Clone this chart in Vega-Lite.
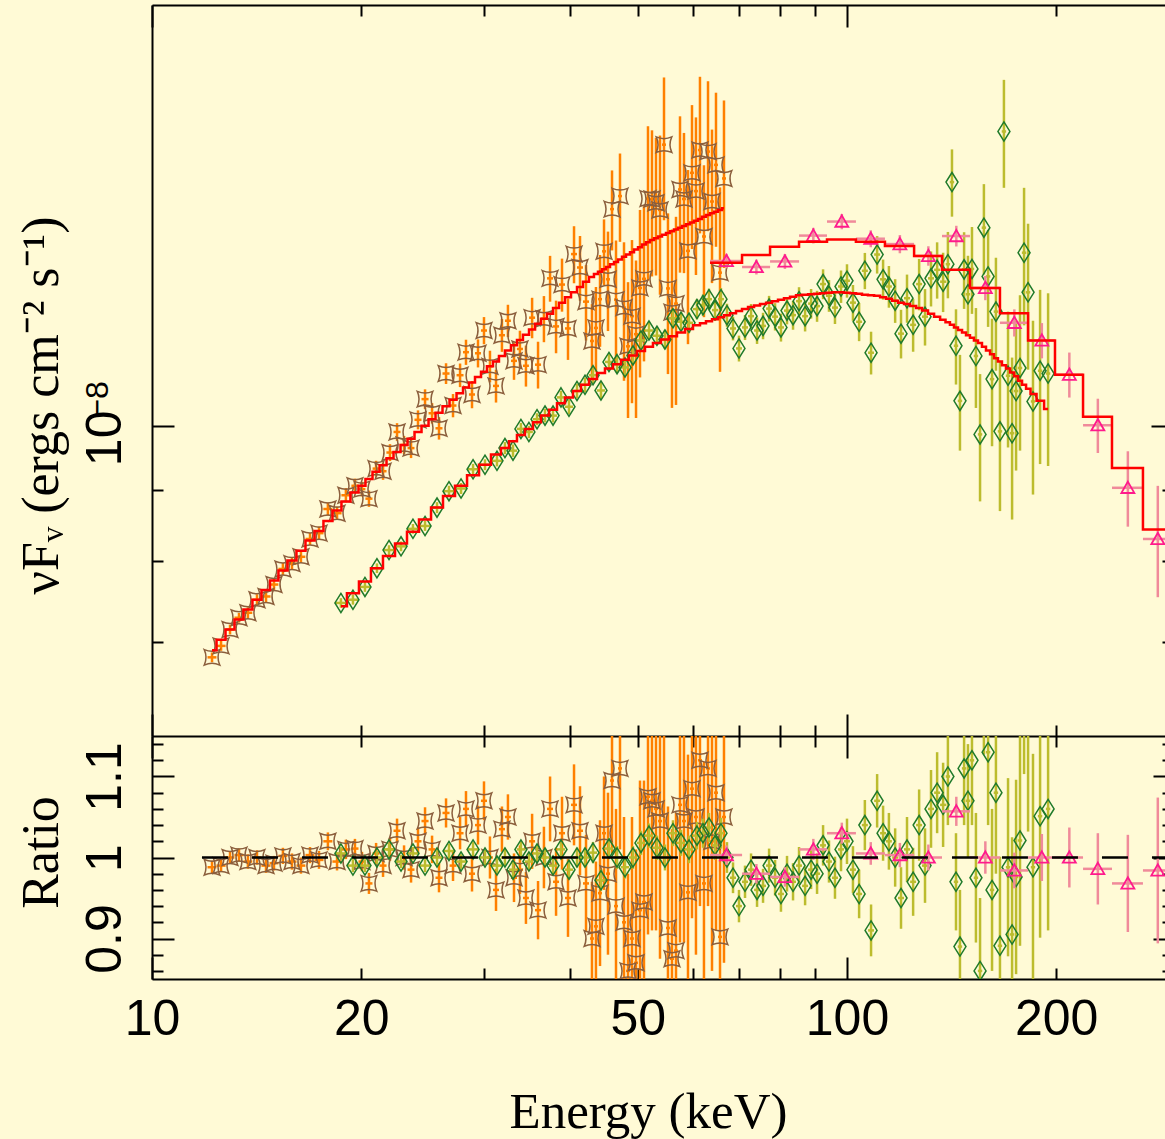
{
"$schema":"https://vega.github.io/schema/vega-lite/v6.json",
"autosize":{"type":"none"},
"padding":{"left":152,"top":5,"right":0,"bottom":160},
"width":1013,"height":974,
"background":"#fffad6",
"config":{"view":{"stroke":null},"axis":{"grid":false,"domainColor":"#000","tickColor":"#000","domainWidth":2,"tickWidth":2,"labelColor":"#000","titleColor":"#000","titleFontWeight":"normal"}},
"datasets":{
"brown":[
{"E":12.2,"xe":0.18,"m":6.91e-9,"r":0.988,"f":6.83e-9,"re":0.008,"fe":5.5e-11},
{"E":12.57,"xe":0.19,"m":7.03e-9,"r":0.99,"f":6.96e-9,"re":0.008,"fe":5.6e-11},
{"E":12.95,"xe":0.19,"m":7.15e-9,"r":1.0,"f":7.15e-9,"re":0.008,"fe":5.7e-11},
{"E":13.34,"xe":0.2,"m":7.27e-9,"r":1.003,"f":7.29e-9,"re":0.008,"fe":5.8e-11},
{"E":13.74,"xe":0.2,"m":7.39e-9,"r":0.995,"f":7.35e-9,"re":0.009,"fe":6.7e-11},
{"E":14.16,"xe":0.21,"m":7.51e-9,"r":1.0,"f":7.51e-9,"re":0.009,"fe":6.8e-11},
{"E":14.59,"xe":0.22,"m":7.63e-9,"r":0.99,"f":7.55e-9,"re":0.009,"fe":6.9e-11},
{"E":14.98,"xe":0.22,"m":7.75e-9,"r":0.993,"f":7.7e-9,"re":0.009,"fe":7.0e-11},
{"E":15.43,"xe":0.23,"m":7.88e-9,"r":1.002,"f":7.9e-9,"re":0.01,"fe":7.9e-11},
{"E":15.9,"xe":0.24,"m":8.01e-9,"r":0.995,"f":7.97e-9,"re":0.01,"fe":8.0e-11},
{"E":16.38,"xe":0.24,"m":8.14e-9,"r":0.99,"f":8.06e-9,"re":0.01,"fe":8.1e-11},
{"E":16.88,"xe":0.25,"m":8.28e-9,"r":1.003,"f":8.3e-9,"re":0.01,"fe":8.3e-11},
{"E":17.39,"xe":0.26,"m":8.41e-9,"r":0.997,"f":8.38e-9,"re":0.011,"fe":9.3e-11},
{"E":17.91,"xe":0.27,"m":8.55e-9,"r":1.02,"f":8.72e-9,"re":0.011,"fe":9.4e-11},
{"E":18.46,"xe":0.28,"m":8.7e-9,"r":0.995,"f":8.66e-9,"re":0.011,"fe":9.6e-11},
{"E":19.01,"xe":0.28,"m":8.83e-9,"r":1.01,"f":8.92e-9,"re":0.012,"fe":1.06e-10},
{"E":19.59,"xe":0.23,"m":8.96e-9,"r":1.011,"f":9.06e-9,"re":0.012,"fe":1.08e-10},
{"E":20.05,"xe":0.23,"m":9.06e-9,"r":0.995,"f":9.01e-9,"re":0.012,"fe":1.09e-10},
{"E":20.52,"xe":0.24,"m":9.16e-9,"r":0.968,"f":8.87e-9,"re":0.013,"fe":1.19e-10},
{"E":21.01,"xe":0.24,"m":9.27e-9,"r":1.005,"f":9.32e-9,"re":0.013,"fe":1.21e-10},
{"E":21.5,"xe":0.25,"m":9.37e-9,"r":0.99,"f":9.28e-9,"re":0.014,"fe":1.31e-10},
{"E":22.0,"xe":0.26,"m":9.48e-9,"r":1.01,"f":9.57e-9,"re":0.014,"fe":1.33e-10},
{"E":22.52,"xe":0.26,"m":9.58e-9,"r":1.033,"f":9.9e-9,"re":0.015,"fe":1.44e-10},
{"E":23.05,"xe":0.27,"m":9.69e-9,"r":1.0,"f":9.69e-9,"re":0.015,"fe":1.45e-10},
{"E":23.59,"xe":0.27,"m":9.79e-9,"r":0.985,"f":9.64e-9,"re":0.016,"fe":1.57e-10},
{"E":24.14,"xe":0.28,"m":9.9e-9,"r":1.02,"f":1.01e-8,"re":0.016,"fe":1.58e-10},
{"E":24.71,"xe":0.29,"m":1.0e-8,"r":1.045,"f":1.045e-8,"re":0.017,"fe":1.7e-10},
{"E":25.29,"xe":0.29,"m":1.011e-8,"r":1.01,"f":1.021e-8,"re":0.017,"fe":1.72e-10},
{"E":25.88,"xe":0.3,"m":1.022e-8,"r":0.975,"f":9.96e-9,"re":0.018,"fe":1.84e-10},
{"E":26.49,"xe":0.31,"m":1.033e-8,"r":1.055,"f":1.09e-8,"re":0.018,"fe":1.86e-10},
{"E":27.11,"xe":0.31,"m":1.044e-8,"r":0.99,"f":1.034e-8,"re":0.019,"fe":1.98e-10},
{"E":27.75,"xe":0.32,"m":1.055e-8,"r":1.03,"f":1.087e-8,"re":0.02,"fe":2.11e-10},
{"E":28.3,"xe":0.28,"m":1.065e-8,"r":1.06,"f":1.129e-8,"re":0.022,"fe":2.34e-10},
{"E":28.87,"xe":0.29,"m":1.074e-8,"r":0.98,"f":1.053e-8,"re":0.022,"fe":2.36e-10},
{"E":29.45,"xe":0.29,"m":1.084e-8,"r":1.04,"f":1.127e-8,"re":0.024,"fe":2.6e-10},
{"E":30.04,"xe":0.3,"m":1.093e-8,"r":1.07,"f":1.17e-8,"re":0.024,"fe":2.62e-10},
{"E":30.64,"xe":0.3,"m":1.103e-8,"r":1.0,"f":1.103e-8,"re":0.026,"fe":2.87e-10},
{"E":31.26,"xe":0.31,"m":1.112e-8,"r":0.96,"f":1.068e-8,"re":0.026,"fe":2.89e-10},
{"E":31.88,"xe":0.32,"m":1.122e-8,"r":1.035,"f":1.161e-8,"re":0.028,"fe":3.14e-10},
{"E":32.52,"xe":0.32,"m":1.132e-8,"r":1.05,"f":1.189e-8,"re":0.028,"fe":3.17e-10},
{"E":33.18,"xe":0.33,"m":1.142e-8,"r":0.975,"f":1.113e-8,"re":0.03,"fe":3.43e-10},
{"E":33.84,"xe":0.34,"m":1.152e-8,"r":0.985,"f":1.135e-8,"re":0.03,"fe":3.46e-10},
{"E":34.52,"xe":0.34,"m":1.162e-8,"r":0.95,"f":1.104e-8,"re":0.032,"fe":3.72e-10},
{"E":35.23,"xe":0.35,"m":1.172e-8,"r":1.02,"f":1.195e-8,"re":0.034,"fe":3.98e-10},
{"E":35.93,"xe":0.36,"m":1.183e-8,"r":0.935,"f":1.106e-8,"re":0.036,"fe":4.26e-10},
{"E":36.64,"xe":0.36,"m":1.193e-8,"r":1.0,"f":1.193e-8,"re":0.038,"fe":4.53e-10},
{"E":37.39,"xe":0.37,"m":1.203e-8,"r":1.06,"f":1.275e-8,"re":0.04,"fe":4.81e-10},
{"E":38.14,"xe":0.38,"m":1.214e-8,"r":0.97,"f":1.178e-8,"re":0.042,"fe":5.1e-10},
{"E":38.9,"xe":0.39,"m":1.225e-8,"r":1.03,"f":1.262e-8,"re":0.045,"fe":5.51e-10},
{"E":39.68,"xe":0.39,"m":1.236e-8,"r":0.95,"f":1.174e-8,"re":0.048,"fe":5.93e-10},
{"E":40.48,"xe":0.4,"m":1.246e-8,"r":1.065,"f":1.327e-8,"re":0.05,"fe":6.23e-10},
{"E":41.29,"xe":0.41,"m":1.257e-8,"r":1.033,"f":1.298e-8,"re":0.055,"fe":6.91e-10},
{"E":42.12,"xe":0.42,"m":1.268e-8,"r":0.968,"f":1.227e-8,"re":0.06,"fe":7.61e-10},
{"E":42.96,"xe":0.28,"m":1.278e-8,"r":0.9,"f":1.15e-8,"re":0.07,"fe":7.2e-10},
{"E":43.53,"xe":0.29,"m":1.284e-8,"r":0.915,"f":1.175e-8,"re":0.08,"fe":8.2e-10},
{"E":44.12,"xe":0.29,"m":1.289e-8,"r":0.956,"f":1.232e-8,"re":0.09,"fe":9.3e-10},
{"E":44.71,"xe":0.3,"m":1.294e-8,"r":1.03,"f":1.333e-8,"re":0.07,"fe":7.2e-10},
{"E":45.3,"xe":0.3,"m":1.299e-8,"r":0.98,"f":1.273e-8,"re":0.1,"fe":1.04e-9},
{"E":45.91,"xe":0.3,"m":1.305e-8,"r":1.095,"f":1.429e-8,"re":0.09,"fe":9.4e-10},
{"E":46.52,"xe":0.31,"m":1.31e-8,"r":0.94,"f":1.231e-8,"re":0.12,"fe":1.26e-9},
{"E":47.14,"xe":0.31,"m":1.315e-8,"r":1.11,"f":1.46e-8,"re":0.1,"fe":1.06e-9},
{"E":47.77,"xe":0.32,"m":1.321e-8,"r":0.92,"f":1.215e-8,"re":0.13,"fe":1.38e-9},
{"E":48.41,"xe":0.32,"m":1.326e-8,"r":0.86,"f":1.14e-8,"re":0.12,"fe":1.27e-9},
{"E":49.05,"xe":0.32,"m":1.331e-8,"r":0.9,"f":1.198e-8,"re":0.15,"fe":1.6e-9},
{"E":49.71,"xe":0.33,"m":1.337e-8,"r":0.87,"f":1.163e-8,"re":0.14,"fe":1.5e-9},
{"E":50.37,"xe":0.33,"m":1.342e-8,"r":0.935,"f":1.255e-8,"re":0.16,"fe":1.72e-9},
{"E":51.04,"xe":0.34,"m":1.348e-8,"r":0.945,"f":1.274e-8,"re":0.15,"fe":1.62e-9},
{"E":51.72,"xe":0.34,"m":1.353e-8,"r":1.075,"f":1.454e-8,"re":0.17,"fe":1.84e-9},
{"E":52.41,"xe":0.35,"m":1.358e-8,"r":1.07,"f":1.453e-8,"re":0.16,"fe":1.74e-9},
{"E":53.11,"xe":0.35,"m":1.362e-8,"r":1.06,"f":1.444e-8,"re":0.15,"fe":1.63e-9},
{"E":53.82,"xe":0.36,"m":1.366e-8,"r":1.045,"f":1.427e-8,"re":0.17,"fe":1.86e-9},
{"E":54.54,"xe":0.36,"m":1.37e-8,"r":1.16,"f":1.589e-8,"re":0.17,"fe":1.86e-9},
{"E":55.26,"xe":0.36,"m":1.374e-8,"r":0.913,"f":1.254e-8,"re":0.15,"fe":1.65e-9},
{"E":56.0,"xe":0.37,"m":1.378e-8,"r":0.875,"f":1.206e-8,"re":0.16,"fe":1.76e-9},
{"E":56.75,"xe":0.37,"m":1.382e-8,"r":0.885,"f":1.223e-8,"re":0.17,"fe":1.88e-9},
{"E":57.51,"xe":0.38,"m":1.386e-8,"r":1.065,"f":1.476e-8,"re":0.17,"fe":1.89e-9},
{"E":58.27,"xe":0.38,"m":1.39e-8,"r":1.045,"f":1.453e-8,"re":0.15,"fe":1.67e-9},
{"E":59.05,"xe":0.39,"m":1.394e-8,"r":0.957,"f":1.334e-8,"re":0.17,"fe":1.9e-9},
{"E":59.84,"xe":0.39,"m":1.398e-8,"r":1.085,"f":1.517e-8,"re":0.16,"fe":1.79e-9},
{"E":60.63,"xe":0.4,"m":1.402e-8,"r":1.05,"f":1.472e-8,"re":0.17,"fe":1.9e-9},
{"E":61.44,"xe":0.41,"m":1.406e-8,"r":1.12,"f":1.575e-8,"re":0.18,"fe":2.02e-9},
{"E":62.26,"xe":0.41,"m":1.411e-8,"r":0.968,"f":1.366e-8,"re":0.15,"fe":1.7e-9},
{"E":63.1,"xe":0.42,"m":1.415e-8,"r":1.11,"f":1.571e-8,"re":0.17,"fe":1.93e-9},
{"E":63.94,"xe":0.42,"m":1.419e-8,"r":1.02,"f":1.447e-8,"re":0.16,"fe":1.82e-9},
{"E":64.79,"xe":0.43,"m":1.423e-8,"r":1.08,"f":1.537e-8,"re":0.17,"fe":1.94e-9},
{"E":65.66,"xe":0.43,"m":1.427e-8,"r":0.902,"f":1.287e-8,"re":0.17,"fe":1.94e-9},
{"E":66.53,"xe":0.44,"m":1.431e-8,"r":1.05,"f":1.503e-8,"re":0.18,"fe":2.06e-9}
],
"green":[
{"E":18.7,"xe":0.37,"m":7.43e-9,"r":1.005,"f":7.47e-9,"re":0.008,"fe":5.9e-11},
{"E":19.46,"xe":0.39,"m":7.59e-9,"r":0.99,"f":7.51e-9,"re":0.008,"fe":6.1e-11},
{"E":20.25,"xe":0.4,"m":7.74e-9,"r":0.99,"f":7.67e-9,"re":0.008,"fe":6.2e-11},
{"E":21.07,"xe":0.42,"m":7.91e-9,"r":1.0,"f":7.91e-9,"re":0.008,"fe":6.3e-11},
{"E":21.93,"xe":0.44,"m":8.07e-9,"r":1.01,"f":8.15e-9,"re":0.008,"fe":6.5e-11},
{"E":22.82,"xe":0.45,"m":8.24e-9,"r":0.995,"f":8.2e-9,"re":0.008,"fe":6.6e-11},
{"E":23.74,"xe":0.47,"m":8.4e-9,"r":1.005,"f":8.44e-9,"re":0.008,"fe":6.7e-11},
{"E":24.71,"xe":0.49,"m":8.57e-9,"r":0.99,"f":8.48e-9,"re":0.008,"fe":6.9e-11},
{"E":25.71,"xe":0.51,"m":8.74e-9,"r":1.0,"f":8.74e-9,"re":0.009,"fe":7.9e-11},
{"E":26.75,"xe":0.53,"m":8.91e-9,"r":1.008,"f":8.98e-9,"re":0.009,"fe":8.0e-11},
{"E":27.84,"xe":0.55,"m":9.06e-9,"r":0.995,"f":9.02e-9,"re":0.009,"fe":8.2e-11},
{"E":28.97,"xe":0.58,"m":9.22e-9,"r":1.01,"f":9.31e-9,"re":0.009,"fe":8.3e-11},
{"E":30.14,"xe":0.6,"m":9.38e-9,"r":1.0,"f":9.38e-9,"re":0.009,"fe":8.4e-11},
{"E":31.36,"xe":0.62,"m":9.54e-9,"r":0.99,"f":9.44e-9,"re":0.009,"fe":8.6e-11},
{"E":32.2,"xe":0.43,"m":9.64e-9,"r":1.0,"f":9.64e-9,"re":0.01,"fe":9.6e-11},
{"E":33.07,"xe":0.44,"m":9.75e-9,"r":0.985,"f":9.6e-9,"re":0.01,"fe":9.8e-11},
{"E":33.95,"xe":0.45,"m":9.85e-9,"r":1.01,"f":9.95e-9,"re":0.01,"fe":9.9e-11},
{"E":34.86,"xe":0.46,"m":9.95e-9,"r":0.995,"f":9.9e-9,"re":0.01,"fe":1.0e-10},
{"E":35.81,"xe":0.48,"m":1.006e-8,"r":1.005,"f":1.011e-8,"re":0.01,"fe":1.0e-10},
{"E":36.77,"xe":0.49,"m":1.017e-8,"r":1.0,"f":1.017e-8,"re":0.011,"fe":1.12e-10},
{"E":37.76,"xe":0.5,"m":1.027e-8,"r":0.99,"f":1.017e-8,"re":0.011,"fe":1.13e-10},
{"E":38.77,"xe":0.52,"m":1.038e-8,"r":1.01,"f":1.048e-8,"re":0.011,"fe":1.14e-10},
{"E":39.81,"xe":0.53,"m":1.048e-8,"r":0.985,"f":1.032e-8,"re":0.012,"fe":1.26e-10},
{"E":40.88,"xe":0.54,"m":1.059e-8,"r":1.0,"f":1.059e-8,"re":0.012,"fe":1.27e-10},
{"E":41.98,"xe":0.56,"m":1.07e-8,"r":1.0,"f":1.07e-8,"re":0.012,"fe":1.28e-10},
{"E":43.11,"xe":0.57,"m":1.08e-8,"r":1.006,"f":1.087e-8,"re":0.013,"fe":1.4e-10},
{"E":44.26,"xe":0.59,"m":1.091e-8,"r":0.972,"f":1.06e-8,"re":0.013,"fe":1.42e-10},
{"E":45.45,"xe":0.6,"m":1.099e-8,"r":1.011,"f":1.111e-8,"re":0.013,"fe":1.43e-10},
{"E":46.68,"xe":0.62,"m":1.107e-8,"r":1.0,"f":1.107e-8,"re":0.014,"fe":1.55e-10},
{"E":47.93,"xe":0.64,"m":1.115e-8,"r":0.988,"f":1.101e-8,"re":0.014,"fe":1.56e-10},
{"E":49.21,"xe":0.65,"m":1.123e-8,"r":1.0,"f":1.123e-8,"re":0.014,"fe":1.57e-10},
{"E":50.53,"xe":0.67,"m":1.131e-8,"r":1.018,"f":1.151e-8,"re":0.015,"fe":1.7e-10},
{"E":51.89,"xe":0.69,"m":1.139e-8,"r":1.027,"f":1.17e-8,"re":0.015,"fe":1.71e-10},
{"E":53.28,"xe":0.71,"m":1.146e-8,"r":1.012,"f":1.16e-8,"re":0.015,"fe":1.72e-10},
{"E":54.71,"xe":0.73,"m":1.153e-8,"r":1.0,"f":1.153e-8,"re":0.016,"fe":1.84e-10},
{"E":56.18,"xe":0.75,"m":1.159e-8,"r":1.03,"f":1.194e-8,"re":0.016,"fe":1.85e-10},
{"E":57.7,"xe":0.77,"m":1.166e-8,"r":1.018,"f":1.187e-8,"re":0.016,"fe":1.87e-10},
{"E":59.25,"xe":0.79,"m":1.173e-8,"r":1.01,"f":1.185e-8,"re":0.017,"fe":1.99e-10},
{"E":60.83,"xe":0.81,"m":1.18e-8,"r":1.027,"f":1.212e-8,"re":0.017,"fe":2.01e-10},
{"E":62.06,"xe":0.61,"m":1.184e-8,"r":1.03,"f":1.22e-8,"re":0.018,"fe":2.13e-10},
{"E":63.3,"xe":0.63,"m":1.188e-8,"r":1.037,"f":1.232e-8,"re":0.018,"fe":2.14e-10},
{"E":64.58,"xe":0.64,"m":1.192e-8,"r":1.015,"f":1.21e-8,"re":0.018,"fe":2.15e-10},
{"E":65.87,"xe":0.65,"m":1.196e-8,"r":1.03,"f":1.232e-8,"re":0.019,"fe":2.27e-10},
{"E":67.19,"xe":0.67,"m":1.2e-8,"r":1.0,"f":1.2e-8,"re":0.019,"fe":2.28e-10},
{"E":68.55,"xe":0.68,"m":1.204e-8,"r":0.975,"f":1.174e-8,"re":0.019,"fe":2.29e-10},
{"E":69.92,"xe":0.69,"m":1.208e-8,"r":0.94,"f":1.136e-8,"re":0.02,"fe":2.42e-10},
{"E":71.33,"xe":0.71,"m":1.212e-8,"r":0.97,"f":1.176e-8,"re":0.02,"fe":2.42e-10},
{"E":72.77,"xe":0.72,"m":1.216e-8,"r":0.985,"f":1.198e-8,"re":0.02,"fe":2.43e-10},
{"E":74.23,"xe":0.73,"m":1.219e-8,"r":0.96,"f":1.17e-8,"re":0.021,"fe":2.56e-10},
{"E":75.72,"xe":0.75,"m":1.222e-8,"r":0.965,"f":1.179e-8,"re":0.021,"fe":2.57e-10},
{"E":77.25,"xe":0.76,"m":1.225e-8,"r":0.99,"f":1.213e-8,"re":0.021,"fe":2.57e-10},
{"E":78.8,"xe":0.78,"m":1.228e-8,"r":0.975,"f":1.197e-8,"re":0.022,"fe":2.7e-10},
{"E":80.35,"xe":0.8,"m":1.231e-8,"r":0.955,"f":1.176e-8,"re":0.022,"fe":2.71e-10},
{"E":81.98,"xe":0.81,"m":1.234e-8,"r":0.98,"f":1.209e-8,"re":0.022,"fe":2.71e-10},
{"E":83.63,"xe":0.83,"m":1.237e-8,"r":0.97,"f":1.2e-8,"re":0.023,"fe":2.85e-10},
{"E":85.31,"xe":0.84,"m":1.24e-8,"r":0.99,"f":1.228e-8,"re":0.023,"fe":2.85e-10},
{"E":87.04,"xe":0.86,"m":1.241e-8,"r":0.965,"f":1.198e-8,"re":0.024,"fe":2.98e-10},
{"E":88.79,"xe":0.88,"m":1.242e-8,"r":0.985,"f":1.223e-8,"re":0.024,"fe":2.98e-10},
{"E":90.56,"xe":0.9,"m":1.243e-8,"r":0.98,"f":1.218e-8,"re":0.025,"fe":3.11e-10},
{"E":92.38,"xe":0.91,"m":1.244e-8,"r":1.015,"f":1.263e-8,"re":0.025,"fe":3.11e-10},
{"E":94.21,"xe":0.93,"m":1.245e-8,"r":0.995,"f":1.239e-8,"re":0.026,"fe":3.24e-10},
{"E":96.1,"xe":0.95,"m":1.246e-8,"r":0.975,"f":1.215e-8,"re":0.026,"fe":3.24e-10},
{"E":98.04,"xe":0.97,"m":1.246e-8,"r":1.01,"f":1.258e-8,"re":0.027,"fe":3.36e-10},
{"E":100.0,"xe":0.99,"m":1.245e-8,"r":1.02,"f":1.27e-8,"re":0.028,"fe":3.49e-10},
{"E":102.0,"xe":1.01,"m":1.244e-8,"r":0.985,"f":1.225e-8,"re":0.029,"fe":3.61e-10},
{"E":104.1,"xe":1.03,"m":1.243e-8,"r":0.955,"f":1.187e-8,"re":0.03,"fe":3.73e-10},
{"E":106.1,"xe":1.05,"m":1.241e-8,"r":1.04,"f":1.291e-8,"re":0.031,"fe":3.85e-10},
{"E":108.3,"xe":1.07,"m":1.24e-8,"r":0.91,"f":1.128e-8,"re":0.032,"fe":3.97e-10},
{"E":110.5,"xe":1.09,"m":1.239e-8,"r":1.07,"f":1.326e-8,"re":0.033,"fe":4.09e-10},
{"E":112.7,"xe":1.12,"m":1.236e-8,"r":1.03,"f":1.273e-8,"re":0.034,"fe":4.2e-10},
{"E":114.9,"xe":1.14,"m":1.233e-8,"r":1.02,"f":1.258e-8,"re":0.035,"fe":4.32e-10},
{"E":117.3,"xe":1.16,"m":1.229e-8,"r":1.0,"f":1.229e-8,"re":0.036,"fe":4.42e-10},
{"E":119.6,"xe":1.18,"m":1.225e-8,"r":0.95,"f":1.164e-8,"re":0.038,"fe":4.66e-10},
{"E":122.0,"xe":1.21,"m":1.222e-8,"r":1.01,"f":1.234e-8,"re":0.04,"fe":4.89e-10},
{"E":124.5,"xe":1.23,"m":1.218e-8,"r":0.97,"f":1.181e-8,"re":0.042,"fe":5.12e-10},
{"E":127.0,"xe":1.26,"m":1.214e-8,"r":1.04,"f":1.263e-8,"re":0.044,"fe":5.34e-10},
{"E":129.5,"xe":1.28,"m":1.209e-8,"r":0.99,"f":1.197e-8,"re":0.046,"fe":5.56e-10},
{"E":132.1,"xe":1.31,"m":1.203e-8,"r":1.06,"f":1.275e-8,"re":0.048,"fe":5.77e-10},
{"E":134.8,"xe":1.33,"m":1.197e-8,"r":1.08,"f":1.293e-8,"re":0.05,"fe":5.99e-10},
{"E":137.5,"xe":1.36,"m":1.191e-8,"r":1.065,"f":1.268e-8,"re":0.052,"fe":6.19e-10},
{"E":139.7,"xe":1.02,"m":1.186e-8,"r":1.1,"f":1.305e-8,"re":0.06,"fe":7.12e-10},
{"E":141.6,"xe":1.03,"m":1.181e-8,"r":1.265,"f":1.494e-8,"re":0.07,"fe":8.27e-10},
{"E":143.5,"xe":1.05,"m":1.176e-8,"r":0.97,"f":1.141e-8,"re":0.06,"fe":7.06e-10},
{"E":145.4,"xe":1.06,"m":1.171e-8,"r":0.89,"f":1.042e-8,"re":0.07,"fe":8.2e-10},
{"E":147.4,"xe":1.08,"m":1.166e-8,"r":1.11,"f":1.294e-8,"re":0.07,"fe":8.16e-10},
{"E":149.3,"xe":1.09,"m":1.161e-8,"r":1.07,"f":1.242e-8,"re":0.07,"fe":8.13e-10},
{"E":151.3,"xe":1.1,"m":1.156e-8,"r":1.12,"f":1.295e-8,"re":0.08,"fe":9.25e-10},
{"E":153.3,"xe":1.12,"m":1.151e-8,"r":0.975,"f":1.122e-8,"re":0.08,"fe":9.21e-10},
{"E":155.4,"xe":1.13,"m":1.146e-8,"r":0.86,"f":9.86e-9,"re":0.09,"fe":1.03e-9},
{"E":157.4,"xe":1.15,"m":1.139e-8,"r":1.217,"f":1.386e-8,"re":0.09,"fe":1.03e-9},
{"E":159.6,"xe":1.17,"m":1.132e-8,"r":1.13,"f":1.279e-8,"re":0.09,"fe":1.02e-9},
{"E":161.7,"xe":1.18,"m":1.125e-8,"r":0.96,"f":1.08e-8,"re":0.1,"fe":1.13e-9},
{"E":163.8,"xe":1.2,"m":1.118e-8,"r":1.08,"f":1.207e-8,"re":0.1,"fe":1.12e-9},
{"E":166.0,"xe":1.21,"m":1.112e-8,"r":0.891,"f":9.91e-9,"re":0.11,"fe":1.22e-9},
{"E":168.2,"xe":1.23,"m":1.105e-8,"r":1.47,"f":1.624e-8,"re":0.13,"fe":1.44e-9},
{"E":170.5,"xe":1.24,"m":1.099e-8,"r":0.988,"f":1.086e-8,"re":0.11,"fe":1.21e-9},
{"E":172.8,"xe":1.26,"m":1.092e-8,"r":0.905,"f":9.88e-9,"re":0.12,"fe":1.31e-9},
{"E":175.1,"xe":1.28,"m":1.085e-8,"r":0.976,"f":1.059e-8,"re":0.12,"fe":1.3e-9},
{"E":177.4,"xe":1.3,"m":1.077e-8,"r":1.021,"f":1.1e-8,"re":0.13,"fe":1.4e-9},
{"E":179.8,"xe":1.31,"m":1.07e-8,"r":1.243,"f":1.33e-8,"re":0.14,"fe":1.5e-9},
{"E":182.2,"xe":1.33,"m":1.063e-8,"r":1.172,"f":1.246e-8,"re":0.14,"fe":1.49e-9},
{"E":185.2,"xe":1.35,"m":1.054e-8,"r":0.988,"f":1.041e-8,"re":0.14,"fe":1.48e-9},
{"E":189.6,"xe":1.38,"m":1.042e-8,"r":1.051,"f":1.095e-8,"re":0.15,"fe":1.56e-9},
{"E":194.7,"xe":1.42,"m":1.028e-8,"r":1.06,"f":1.09e-8,"re":0.15,"fe":1.54e-9}
],
"pink":[
{"E":67.08,"xe":3.56,"m":1.308e-8,"r":1.003,"f":1.312e-8,"re":0.012,"fe":1.57e-10},
{"E":74.07,"xe":3.44,"m":1.325e-8,"r":0.98,"f":1.299e-8,"re":0.012,"fe":1.59e-10},
{"E":81.41,"xe":3.91,"m":1.343e-8,"r":0.976,"f":1.311e-8,"re":0.012,"fe":1.61e-10},
{"E":89.45,"xe":4.14,"m":1.354e-8,"r":1.01,"f":1.368e-8,"re":0.013,"fe":1.76e-10},
{"E":98.3,"xe":4.71,"m":1.359e-8,"r":1.03,"f":1.4e-8,"re":0.013,"fe":1.77e-10},
{"E":108.2,"xe":5.2,"m":1.354e-8,"r":1.005,"f":1.361e-8,"re":0.014,"fe":1.9e-10},
{"E":119.15,"xe":5.75,"m":1.345e-8,"r":1.003,"f":1.349e-8,"re":0.015,"fe":2.02e-10},
{"E":130.95,"xe":6.05,"m":1.323e-8,"r":1.0,"f":1.323e-8,"re":0.016,"fe":2.12e-10},
{"E":143.65,"xe":6.65,"m":1.293e-8,"r":1.057,"f":1.367e-8,"re":0.018,"fe":2.33e-10},
{"E":158.15,"xe":7.85,"m":1.255e-8,"r":1.0,"f":1.255e-8,"re":0.02,"fe":2.51e-10},
{"E":174.1,"xe":8.1,"m":1.204e-8,"r":0.984,"f":1.185e-8,"re":0.022,"fe":2.65e-10},
{"E":190.7,"xe":8.5,"m":1.151e-8,"r":1.0,"f":1.151e-8,"re":0.029,"fe":3.34e-10},
{"E":208.9,"xe":9.7,"m":1.088e-8,"r":1.0,"f":1.088e-8,"re":0.037,"fe":4.03e-10},
{"E":229.6,"xe":11.0,"m":1.015e-8,"r":0.986,"f":1.001e-8,"re":0.044,"fe":4.47e-10},
{"E":253.6,"xe":13.0,"m":9.33e-9,"r":0.968,"f":9.03e-9,"re":0.06,"fe":5.6e-10},
{"E":280.05,"xe":13.45,"m":8.43e-9,"r":0.984,"f":8.3e-9,"re":0.09,"fe":7.59e-10}
],
"pinkModel":[
{"E":63.52,"m":1.308e-8},{"E":70.63,"m":1.325e-8},{"E":77.5,"m":1.343e-8},{"E":85.31,"m":1.354e-8},
{"E":93.59,"m":1.359e-8},{"E":103.0,"m":1.354e-8},{"E":113.4,"m":1.345e-8},{"E":124.9,"m":1.323e-8},
{"E":137.0,"m":1.293e-8},{"E":150.3,"m":1.255e-8},{"E":166.0,"m":1.204e-8},{"E":182.2,"m":1.151e-8},
{"E":199.2,"m":1.088e-8},{"E":218.6,"m":1.015e-8},{"E":240.6,"m":9.33e-9},{"E":266.6,"m":8.43e-9},
{"E":293.5,"m":8.43e-9}
],
"unity":[{"E":11.8,"E2":286.8,"r":1}]
},
"resolve":{"scale":{"y":"independent"},"axis":{"x":"independent","y":"independent"}},
"layer":[
{
"resolve":{"axis":{"x":"independent","y":"independent"}},
"layer":[
{"data":{"name":"brown"},"mark":{"type":"errorbar","color":"#ff8000","thickness":2.5,"clip":true},
 "encoding":{"x":{"field":"E","type":"quantitative","scale":{"type":"log","domain":[10,286.8],"nice":false},"axis":null},
  "y":{"field":"f","type":"quantitative","scale":{"type":"log","domain":[6e-9,2e-8],"range":[731,0],"nice":false,"zero":false},"axis":null},"yError":{"field":"fe"}}},
{"data":{"name":"brown"},"mark":{"type":"errorbar","color":"#ff8000","thickness":2.5,"clip":true},
 "encoding":{"x":{"field":"E","type":"quantitative","scale":{"type":"log","domain":[10,286.8],"nice":false},"axis":null},"xError":{"field":"xe"},
  "y":{"field":"f","type":"quantitative","scale":{"type":"log","domain":[6e-9,2e-8],"range":[731,0],"nice":false,"zero":false},"axis":null}}},
{"data":{"name":"brown"},"mark":{"type":"point","shape":"M-1,-1Q0,-0.55,1,-1Q0.55,0,1,1Q0,0.55,-1,1Q-0.55,0,-1,-1Z","size":240,"filled":false,"color":"#8b5e3c","strokeWidth":1.5,"opacity":1,"clip":true},
 "encoding":{"x":{"field":"E","type":"quantitative","scale":{"type":"log","domain":[10,286.8],"nice":false},
   "axis":{"orient":"bottom","offset":-243,"values":[20,30,40,50,60,70,80,90,200],"tickSize":-11,"labels":false,"title":null,"domain":true}},
  "y":{"field":"f","type":"quantitative","scale":{"type":"log","domain":[6e-9,2e-8],"range":[731,0],"nice":false,"zero":false},
   "axis":{"orient":"left","values":[7e-9,8e-9,9e-9],"tickSize":-11,"labels":false,"title":null,"domain":true}}}},
{"data":{"name":"green"},"mark":{"type":"errorbar","color":"#bcbc2e","thickness":2.5,"clip":true},
 "encoding":{"x":{"field":"E","type":"quantitative","scale":{"type":"log","domain":[10,286.8],"nice":false},"axis":null},
  "y":{"field":"f","type":"quantitative","scale":{"type":"log","domain":[6e-9,2e-8],"range":[731,0],"nice":false,"zero":false},"axis":null},"yError":{"field":"fe"}}},
{"data":{"name":"green"},"mark":{"type":"errorbar","color":"#bcbc2e","thickness":2.5,"clip":true},
 "encoding":{"x":{"field":"E","type":"quantitative","scale":{"type":"log","domain":[10,286.8],"nice":false},"axis":null},"xError":{"field":"xe"},
  "y":{"field":"f","type":"quantitative","scale":{"type":"log","domain":[6e-9,2e-8],"range":[731,0],"nice":false,"zero":false},"axis":null}}},
{"data":{"name":"green"},"mark":{"type":"point","shape":"M0,-1.6L1,0L0,1.6L-1,0Z","size":144,"filled":false,"color":"#1f7a2a","strokeWidth":1.5,"opacity":1,"clip":true},
 "encoding":{"x":{"field":"E","type":"quantitative","scale":{"type":"log","domain":[10,286.8],"nice":false},
   "axis":{"orient":"bottom","offset":-243,"values":[10,100],"tickSize":-22,"labels":false,"title":null,"domain":false}},
  "y":{"field":"f","type":"quantitative","scale":{"type":"log","domain":[6e-9,2e-8],"range":[731,0],"nice":false,"zero":false},
   "axis":{"orient":"left","values":[1e-8],"tickSize":-22,"labels":false,"title":null,"domain":false}}}},
{"data":{"name":"pink"},"mark":{"type":"errorbar","color":"#f08a9a","thickness":2.5,"clip":true},
 "encoding":{"x":{"field":"E","type":"quantitative","scale":{"type":"log","domain":[10,286.8],"nice":false},"axis":null},
  "y":{"field":"f","type":"quantitative","scale":{"type":"log","domain":[6e-9,2e-8],"range":[731,0],"nice":false,"zero":false},"axis":null},"yError":{"field":"fe"}}},
{"data":{"name":"pink"},"mark":{"type":"errorbar","color":"#f08a9a","thickness":2.5,"clip":true},
 "encoding":{"x":{"field":"E","type":"quantitative","scale":{"type":"log","domain":[10,286.8],"nice":false},"axis":null},"xError":{"field":"xe"},
  "y":{"field":"f","type":"quantitative","scale":{"type":"log","domain":[6e-9,2e-8],"range":[731,0],"nice":false,"zero":false},"axis":null}}},
{"data":{"name":"pink"},"mark":{"type":"point","shape":"M0,-0.95L1,0.8L-1,0.8Z","size":169,"filled":false,"color":"#ff1a8c","strokeWidth":1.8,"opacity":1,"clip":true},
 "encoding":{"x":{"field":"E","type":"quantitative","scale":{"type":"log","domain":[10,286.8],"nice":false},
   "axis":{"orient":"top","values":[20,30,40,50,60,70,80,90,200],"tickSize":-11,"labels":false,"title":null,"domain":true}},
  "y":{"field":"f","type":"quantitative","scale":{"type":"log","domain":[6e-9,2e-8],"range":[731,0],"nice":false,"zero":false},
   "axis":{"orient":"right","values":[7e-9,8e-9,9e-9],"tickSize":-3,"labels":false,"title":null,"domain":false}}}},
{"data":{"name":"pink"},"mark":{"type":"point","opacity":0},
 "encoding":{"x":{"field":"E","type":"quantitative","scale":{"type":"log","domain":[10,286.8],"nice":false},"axis":null},
  "y":{"field":"f","type":"quantitative","scale":{"type":"log","domain":[6e-9,2e-8],"range":[731,0],"nice":false,"zero":false},
   "axis":{"orient":"left","values":[1e-8],"ticks":false,"tickSize":0,"domain":false,"labels":true,"labelExpr":"'−8'","labelAngle":-90,"labelAlign":"center","labelBaseline":"alphabetic","labelPadding":45,"labelOffset":-27,"labelFont":"Liberation Sans Narrow, Liberation Sans","labelFontSize":32,"labelColor":"#000","title":null}}}},
{"data":{"name":"brown"},"mark":{"type":"line","color":"#ff0000","strokeWidth":2.5,"interpolate":"step","clip":true},
 "encoding":{"x":{"field":"E","type":"quantitative","scale":{"type":"log","domain":[10,286.8],"nice":false},
   "axis":{"orient":"top","values":[10,100],"tickSize":-22,"labels":false,"title":null,"domain":false}},
  "y":{"field":"m","type":"quantitative","scale":{"type":"log","domain":[6e-9,2e-8],"range":[731,0],"nice":false,"zero":false},
   "axis":{"orient":"right","values":[1e-8],"tickSize":-14,"labels":false,"title":null,"domain":false}}}},
{"data":{"name":"green"},"mark":{"type":"line","color":"#ff0000","strokeWidth":2.5,"interpolate":"step","clip":true},
 "encoding":{"x":{"field":"E","type":"quantitative","scale":{"type":"log","domain":[10,286.8],"nice":false},"axis":null},
  "y":{"field":"m","type":"quantitative","scale":{"type":"log","domain":[6e-9,2e-8],"range":[731,0],"nice":false,"zero":false},
   "axis":{"orient":"left","values":[1e-8],"ticks":false,"tickSize":0,"domain":false,"labels":true,"labelExpr":"'10'","labelAngle":-90,"labelAlign":"center","labelBaseline":"alphabetic","labelPadding":32,"labelOffset":12,"labelFont":"Liberation Sans Narrow, Liberation Sans","labelFontSize":50,"labelColor":"#000",
    "title":"νFᵥ  (ergs cm⁻² s⁻¹)","titleFont":"Liberation Serif","titleFontSize":52,"titleFontWeight":"normal","titleAngle":-90,"titleAlign":"center","titleBaseline":"alphabetic","titleX":-95,"titleY":400,"titleColor":"#000"}}}},
{"data":{"name":"pinkModel"},"mark":{"type":"line","color":"#ff0000","strokeWidth":2.5,"interpolate":"step-after","clip":true},
 "encoding":{"x":{"field":"E","type":"quantitative","scale":{"type":"log","domain":[10,286.8],"nice":false},"axis":null},
  "y":{"field":"m","type":"quantitative","scale":{"type":"log","domain":[6e-9,2e-8],"range":[731,0],"nice":false,"zero":false},"axis":null}}}
]
},
{
"resolve":{"axis":{"x":"independent","y":"independent"}},
"layer":[
{"data":{"name":"brown"},"mark":{"type":"errorbar","color":"#ff8000","thickness":2.5,"clip":true},
 "encoding":{"x":{"field":"E","type":"quantitative","scale":{"type":"log","domain":[10,286.8],"nice":false},"axis":null},
  "y":{"field":"r","type":"quantitative","scale":{"domain":[0.85,1.15],"range":[974,731],"nice":false,"zero":false,"clamp":true},"axis":null},"yError":{"field":"re"}}},
{"data":{"name":"brown"},"transform":[{"filter":"datum.r>=0.85 && datum.r<=1.15"}],"mark":{"type":"errorbar","color":"#ff8000","thickness":2.5,"clip":true},
 "encoding":{"x":{"field":"E","type":"quantitative","scale":{"type":"log","domain":[10,286.8],"nice":false},"axis":null},"xError":{"field":"xe"},
  "y":{"field":"r","type":"quantitative","scale":{"domain":[0.85,1.15],"range":[974,731],"nice":false,"zero":false,"clamp":true},"axis":null}}},
{"data":{"name":"brown"},"transform":[{"filter":"datum.r>=0.85 && datum.r<=1.15"}],"mark":{"type":"point","shape":"M-1,-1Q0,-0.55,1,-1Q0.55,0,1,1Q0,0.55,-1,1Q-0.55,0,-1,-1Z","size":240,"filled":false,"color":"#8b5e3c","strokeWidth":1.5,"opacity":1,"clip":true},
 "encoding":{"x":{"field":"E","type":"quantitative","scale":{"type":"log","domain":[10,286.8],"nice":false},
   "axis":{"orient":"bottom","values":[20,30,40,50,60,70,80,90,200],"tickSize":-11,"labels":false,"title":null,"domain":true}},
  "y":{"field":"r","type":"quantitative","scale":{"domain":[0.85,1.15],"range":[974,731],"nice":false,"zero":false,"clamp":true},
   "axis":{"orient":"left","values":[0.86,0.88,0.92,0.94,0.96,0.98,1.02,1.04,1.06,1.08,1.12,1.14],"tickSize":-11,"labels":false,"title":null,"domain":true}}}},
{"data":{"name":"green"},"mark":{"type":"errorbar","color":"#bcbc2e","thickness":2.5,"clip":true},
 "encoding":{"x":{"field":"E","type":"quantitative","scale":{"type":"log","domain":[10,286.8],"nice":false},"axis":null},
  "y":{"field":"r","type":"quantitative","scale":{"domain":[0.85,1.15],"range":[974,731],"nice":false,"zero":false,"clamp":true},"axis":null},"yError":{"field":"re"}}},
{"data":{"name":"green"},"transform":[{"filter":"datum.r>=0.85 && datum.r<=1.15"}],"mark":{"type":"errorbar","color":"#bcbc2e","thickness":2.5,"clip":true},
 "encoding":{"x":{"field":"E","type":"quantitative","scale":{"type":"log","domain":[10,286.8],"nice":false},"axis":null},"xError":{"field":"xe"},
  "y":{"field":"r","type":"quantitative","scale":{"domain":[0.85,1.15],"range":[974,731],"nice":false,"zero":false,"clamp":true},"axis":null}}},
{"data":{"name":"green"},"transform":[{"filter":"datum.r>=0.85 && datum.r<=1.15"}],"mark":{"type":"point","shape":"M0,-1.6L1,0L0,1.6L-1,0Z","size":144,"filled":false,"color":"#1f7a2a","strokeWidth":1.5,"opacity":1,"clip":true},
 "encoding":{"x":{"field":"E","type":"quantitative","scale":{"type":"log","domain":[10,286.8],"nice":false},
   "axis":{"orient":"bottom","values":[10,100],"tickSize":-22,"labels":false,"title":null,"domain":false}},
  "y":{"field":"r","type":"quantitative","scale":{"domain":[0.85,1.15],"range":[974,731],"nice":false,"zero":false,"clamp":true},
   "axis":{"orient":"left","values":[0.9,1,1.1],"tickSize":-22,"labels":false,"title":null,"domain":false}}}},
{"data":{"name":"pink"},"mark":{"type":"errorbar","color":"#f08a9a","thickness":2.5,"clip":true},
 "encoding":{"x":{"field":"E","type":"quantitative","scale":{"type":"log","domain":[10,286.8],"nice":false},"axis":null},
  "y":{"field":"r","type":"quantitative","scale":{"domain":[0.85,1.15],"range":[974,731],"nice":false,"zero":false,"clamp":true},"axis":null},"yError":{"field":"re"}}},
{"data":{"name":"pink"},"mark":{"type":"errorbar","color":"#f08a9a","thickness":2.5,"clip":true},
 "encoding":{"x":{"field":"E","type":"quantitative","scale":{"type":"log","domain":[10,286.8],"nice":false},"axis":null},"xError":{"field":"xe"},
  "y":{"field":"r","type":"quantitative","scale":{"domain":[0.85,1.15],"range":[974,731],"nice":false,"zero":false,"clamp":true},"axis":null}}},
{"data":{"name":"pink"},"mark":{"type":"point","shape":"M0,-0.95L1,0.8L-1,0.8Z","size":169,"filled":false,"color":"#ff1a8c","strokeWidth":1.8,"opacity":1,"clip":true},
 "encoding":{"x":{"field":"E","type":"quantitative","scale":{"type":"log","domain":[10,286.8],"nice":false},
   "axis":{"orient":"top","offset":-731,"values":[20,30,40,50,60,70,80,90,200],"tickSize":-11,"labels":false,"title":null,"domain":false}},
  "y":{"field":"r","type":"quantitative","scale":{"domain":[0.85,1.15],"range":[974,731],"nice":false,"zero":false,"clamp":true},
   "axis":{"orient":"right","values":[0.86,0.88,0.92,0.94,0.96,0.98,1.02,1.04,1.06,1.08,1.12,1.14],"tickSize":-3,"labels":false,"title":null,"domain":false}}}},
{"data":{"name":"pink"},"mark":{"type":"point","opacity":0,"clip":true},
 "encoding":{"x":{"field":"E","type":"quantitative","scale":{"type":"log","domain":[10,286.8],"nice":false},
   "axis":{"orient":"top","offset":-731,"values":[10,100],"tickSize":-22,"labels":false,"title":null,"domain":false}},
  "y":{"field":"r","type":"quantitative","scale":{"domain":[0.85,1.15],"range":[974,731],"nice":false,"zero":false,"clamp":true},
   "axis":{"orient":"right","values":[0.9,1,1.1],"tickSize":-12,"labels":false,"title":null,"domain":false}}}},
{"data":{"name":"unity"},"mark":{"type":"rule","color":"#000","strokeWidth":2.5,"strokeDash":[26,24],"clip":true},
 "encoding":{"x":{"field":"E","type":"quantitative","scale":{"type":"log","domain":[10,286.8],"nice":false},
   "axis":{"orient":"bottom","values":[10,20,50,100,200],"format":"~g","ticks":false,"tickSize":0,"domain":false,"labels":true,"labelFlush":false,"labelOverlap":false,"labelPadding":15,"labelBaseline":"top","labelFont":"Liberation Sans","labelFontSize":50,"labelColor":"#000",
    "title":"Energy (keV)","titleFont":"Liberation Serif","titleFontSize":51,"titleFontWeight":"normal","titleAlign":"center","titleBaseline":"alphabetic","titleX":496,"titleY":148,"titleColor":"#000"}},
  "x2":{"field":"E2"},
  "y":{"field":"r","type":"quantitative","scale":{"domain":[0.85,1.15],"range":[974,731],"nice":false,"zero":false,"clamp":true},
   "axis":{"orient":"left","values":[0.9,1,1.1],"format":"~g","ticks":false,"tickSize":0,"domain":false,"labels":true,"labelAngle":-90,"labelAlign":"center","labelBaseline":"alphabetic","labelPadding":32,"labelFont":"Liberation Sans Narrow, Liberation Sans","labelFontSize":50,"labelColor":"#000",
    "title":"Ratio","titleFont":"Liberation Serif","titleFontSize":52,"titleFontWeight":"normal","titleAngle":-90,"titleAlign":"center","titleBaseline":"alphabetic","titleX":-95,"titleY":847,"titleColor":"#000"}}}}
]
}
]
}
